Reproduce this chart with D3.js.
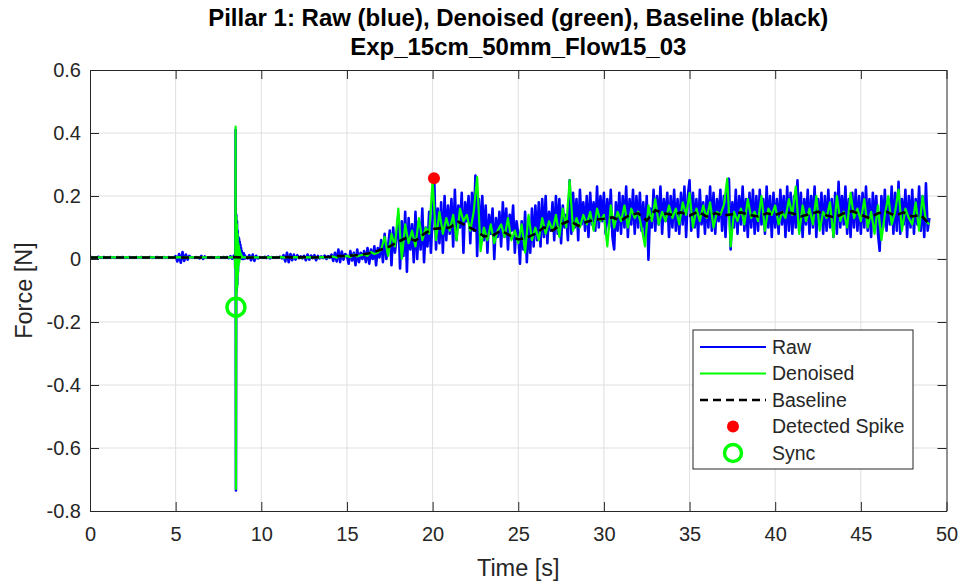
<!DOCTYPE html>
<html>
<head>
<meta charset="utf-8">
<script src="https://cdn.jsdelivr.net/npm/d3@7"></script>
<style>
  body { margin: 0; background: #fff; }
  text { font-family: "Liberation Sans", Arial, Helvetica, sans-serif; fill: #262626; }
</style>
</head>
<body>
<div class="chart"></div>
<script>
// ---- data (force in mN) ----
const titleLines = ["Pillar 1: Raw (blue), Denoised (green), Baseline (black)", "Exp_15cm_50mm_Flow15_03"];
const xLabel = "Time [s]";
const yLabel = "Force [N]";
const xTicks = [0, 5, 10, 15, 20, 25, 30, 35, 40, 45, 50];
const yTicks = [-0.8, -0.6, -0.4, -0.2, 0, 0.2, 0.4, 0.6];
const yTickLabels = ["-0.8", "-0.6", "-0.4", "-0.2", "0", "0.2", "0.4", "0.6"];
const legendNames = ["Raw", "Denoised", "Baseline", "Detected Spike", "Sync"];

// raw signal, one value every 0.1 s from t = 0
const rawStep = 0.1;
const rawForce_mN = [
  5,6,4,5,5,7,4,5,6,5,  4,5,6,5,5,4,6,5,5,6,  5,4,5,6,5,5,4,6,5,5,  6,5,4,5,5,6,5,4,5,6,
  5,5,4,6,5,5,6,4,5,5,  9,-8,16,-12,22,-6,14,-2,10,5,  5,4,6,5,2,10,0,8,4,5,  5,6,4,5,5,6,4,5,6,5,
  6,3,9,1,11,5,5,5,5,5,  5,5,2,12,-4,14,-6,10,2,6,  5,4,7,3,8,2,6,5,4,6,  5,7,2,12,-8,20,-10,16,-4,14,
  -2,12,3,8,2,10,-4,14,-2,11,  3,12,-4,10,2,8,3,11,0,9,  4,14,-6,20,-8,30,-10,24,-2,16,
  10,-15,25,-5,20,-20,30,-10,20,0,  25,-10,35,-15,30,0,40,-20,35,5,
  60,-10,80,0,40,90,-20,100,20,70,  140,-30,120,10,150,-40,130,30,110,-10,
  150,0,120,30,160,-10,100,40,150,20,  130,250,30,160,50,180,20,200,60,170,
  80,190,40,220,60,170,100,210,20,180,  120,200,50,210,90,265,10,190,80,200,
  60,170,20,140,80,160,0,130,70,150,  40,180,70,160,30,140,90,170,20,120,
  80,-15,120,30,150,-10,110,20,160,40,  170,60,180,40,190,70,200,50,150,90,
  180,60,200,80,190,50,170,100,140,60,  250,80,210,100,190,60,220,110,180,90,
  200,70,210,110,180,90,230,100,200,120,  210,80,190,100,220,70,30,180,90,210,
  80,200,100,230,70,190,110,220,80,200,  100,210,90,180,70,200,-2,160,100,220,
  90,200,110,230,80,190,120,210,70,200,  100,220,90,190,80,210,110,230,70,200,
  250,90,210,100,190,70,220,110,180,80,  200,100,230,90,210,80,190,120,220,90,
  200,70,210,255,30,180,100,220,80,200,  110,230,90,190,70,210,100,220,80,200,
  90,220,110,190,80,230,100,200,70,210,  100,190,80,220,110,200,70,230,90,210,
  80,200,100,250,90,210,70,190,110,220,  80,200,100,230,70,190,110,210,80,200,
  90,220,100,190,70,210,80,245,100,200,  110,230,80,190,70,210,100,220,90,200,
  80,210,100,230,90,190,70,210,110,200,  80,26,200,100,220,90,190,110,230,80,
  210,90,245,80,190,110,220,70,200,100,  220,80,190,110,230,90,200,70,240,90,
  130
];

// denoised signal, one value every 0.2 s from t = 0
const denoisedStep = 0.2;
const denoisedForce_mN = [
  5,5,5,5,5, 5,5,5,5,5, 5,5,5,5,5, 5,5,5,5,5, 5,5,5,5,5,
  5,6,4,6,5, 5,5,5,5,5, 5,5,5,5,5, 5,5,6,5,5, 5,5,6,5,5,
  5,5,5,5,5, 5,6,4,7,5, 6,5,4,6,5, 5,6,5,6,5, 6,8,4,10,8,
  10,6,14,8,12, 14,10,22,16,20, 30,70,10,80,40, 160,0,110,50,90, 40,130,60,100,80,
  250,60,150,80,130, 90,140,60,160,120, 140,90,150,260,25, 100,60,110,50,90, 110,70,130,60,90,
  50,110,20,140,60, 100,60,130,80,120, 90,140,70,160,100, 250,90,130,100,140, 110,150,90,160,120,
  140,40,170,100,150, 120,170,100,160,130, 150,100,40,170,120, 190,110,150,120,170, 130,160,110,180,140,
  210,100,160,120,170, 130,180,100,150,140, 170,255,40,150,120, 160,110,190,130,150, 120,200,90,160,140,
  170,110,150,130,190, 140,230,80,170,120, 160,110,200,90,150, 130,180,70,200,120, 150,100,210,130,160,
  120,190,100,150,80, 170,60,140,200,110, 150,220,90,160,130, 110,180,90,200,120,
  110
];

// fine detail around the sync impact (8.46 s to 9.14 s, every 0.02 s)
const impactStart = 8.46;
const impactStep = 0.02;
const impactRaw_mN = [8,-30,410,-735,140,-100,120,-80,90,-40,70,10,65,0,55,15,45,5,35,10,25,0,20,5,15,0,18,8,3,12,2,8,4,6,5];
const impactDenoised_mN = [8,-30,420,-730,135,-110,110,-90,80,-50,50,-20,40,-10,30,0,20,5,15,5,10,5,8,5,6,5,5,5,5,5,5,5,5,5,5];

// baseline, one value every 0.5 s from t = 0
const baselineStep = 0.5;
const baselineForce_mN = [
  5,5,5,5,5,5,5,5,5,5,5,5,5,5,5,5,
  5,6,4,5,5,5,5,6,5,6,5,6,7,9,
  10,12,15,20,30,40,55,68,58,80,95,98,100,118,105,90,72,75,90,75,
  62,68,80,100,90,110,122,105,118,125,128,132,122,140,145,122,155,145,140,148,
  138,150,135,145,138,142,148,140,135,145,140,150,145,135,142,150,138,132,145,152,
  140,130,145,150,138,148,135,140,110
];

const spikeTime = [20.08];
const spikeForce_mN = [256];
const syncTime = [8.52];
const syncForce_mN = [-153];

// ---- layout ----
const width = 963;
const height = 585;
const marginLeft = 90;
const marginRight = 16.5;
const marginTop = 70;
const marginBottom = 74;

const x = d3.scaleLinear().domain([0, 50]).range([marginLeft, width - marginRight]);
const y = d3.scaleLinear().domain([-0.8, 0.6]).range([height - marginBottom, marginTop]);

const inImpact = t => t > impactStart - 0.01 && t < impactStart + impactStep * (impactRaw_mN.length - 1) + 0.01;

function series(values, step, detail) {
  const pts = values.map((v, i) => [i * step, v / 1000]).filter(d => !inImpact(d[0]));
  detail.forEach((v, i) => pts.push([impactStart + i * impactStep, v / 1000]));
  return pts.sort((a, b) => a[0] - b[0]);
}
const rawData = series(rawForce_mN, rawStep, impactRaw_mN);
const denoisedData = series(denoisedForce_mN, denoisedStep, impactDenoised_mN);
const baselineData = baselineForce_mN.map((v, i) => [i * baselineStep, v / 1000]);

const svg = d3.select(".chart").append("svg")
  .attr("width", width)
  .attr("height", height);

svg.append("defs").append("clipPath").attr("id", "plotArea")
  .append("rect")
  .attr("x", marginLeft).attr("y", marginTop)
  .attr("width", x.range()[1] - marginLeft)
  .attr("height", y.range()[0] - marginTop);

// grid
const grid = svg.append("g").attr("stroke", "#dfdfdf").attr("stroke-width", 1);
grid.selectAll(".gx").data(xTicks.slice(1, -1)).join("line")
  .attr("x1", d => x(d)).attr("x2", d => x(d))
  .attr("y1", marginTop).attr("y2", y.range()[0]);
grid.selectAll(".gy").data(yTicks.slice(1, -1)).join("line")
  .attr("x1", marginLeft).attr("x2", x.range()[1])
  .attr("y1", d => y(d)).attr("y2", d => y(d));

// data lines
const line = d3.line().x(d => x(d[0])).y(d => y(d[1]));
const plot = svg.append("g").attr("clip-path", "url(#plotArea)");

plot.append("path").datum(rawData)
  .attr("fill", "none").attr("stroke", "#0000ff").attr("stroke-width", 2.6)
  .attr("stroke-linejoin", "round")
  .attr("d", line);

plot.append("path").datum(denoisedData)
  .attr("fill", "none").attr("stroke", "#00ff00").attr("stroke-width", 2.2)
  .attr("stroke-linejoin", "round")
  .attr("d", line);

plot.append("path").datum(baselineData)
  .attr("fill", "none").attr("stroke", "#000").attr("stroke-width", 2.6)
  .attr("stroke-dasharray", "8,5")
  .attr("d", line);

plot.selectAll(".spike").data(spikeTime).join("circle")
  .attr("cx", d => x(d)).attr("cy", (d, i) => y(spikeForce_mN[i] / 1000))
  .attr("r", 6).attr("fill", "#ff0000");

plot.selectAll(".sync").data(syncTime).join("circle")
  .attr("cx", d => x(d)).attr("cy", (d, i) => y(syncForce_mN[i] / 1000))
  .attr("r", 9).attr("fill", "none").attr("stroke", "#00ff00").attr("stroke-width", 3.4);

// axes (box with inward ticks on all sides)
const axisColor = "#262626";
function styleAxis(g) {
  g.selectAll("path, line").attr("stroke", axisColor);
  g.selectAll("text").attr("fill", axisColor).style("font-size", "20px");
}

svg.append("g")
  .attr("transform", `translate(0,${y.range()[0]})`)
  .call(d3.axisBottom(x).tickValues(xTicks).tickSizeInner(-9).tickSizeOuter(0).tickPadding(16))
  .call(styleAxis);

svg.append("g")
  .attr("transform", `translate(0,${marginTop})`)
  .call(d3.axisTop(x).tickValues(xTicks).tickSizeInner(-9).tickSizeOuter(0).tickFormat(""))
  .call(styleAxis);

svg.append("g")
  .attr("transform", `translate(${marginLeft},0)`)
  .call(d3.axisLeft(y).tickValues(yTicks).tickSizeInner(-9).tickSizeOuter(0).tickPadding(9)
    .tickFormat((d, i) => yTickLabels[i]))
  .call(styleAxis);

svg.append("g")
  .attr("transform", `translate(${x.range()[1]},0)`)
  .call(d3.axisRight(y).tickValues(yTicks).tickSizeInner(-9).tickSizeOuter(0).tickFormat(""))
  .call(styleAxis);

svg.selectAll(".domain").attr("stroke-width", 1);

// titles & labels
const cx = (marginLeft + x.range()[1]) / 2;
svg.selectAll(".title").data(titleLines).join("text")
  .attr("x", cx).attr("y", (d, i) => 26 + i * 29)
  .attr("text-anchor", "middle")
  .style("font-size", "24px").style("font-weight", "bold").style("fill", "#000")
  .text(d => d);

svg.append("text")
  .attr("x", cx).attr("y", 576)
  .attr("text-anchor", "middle")
  .style("font-size", "23.5px")
  .text(xLabel);

svg.append("text")
  .attr("transform", `translate(32,${(marginTop + y.range()[0]) / 2}) rotate(-90)`)
  .attr("text-anchor", "middle")
  .style("font-size", "23.5px")
  .text(yLabel);

// legend
const legend = svg.append("g").attr("transform", "translate(693,330)");
legend.append("rect")
  .attr("width", 220).attr("height", 139)
  .attr("fill", "#fff").attr("stroke", axisColor).attr("stroke-width", 1);

const rowY = i => 17 + i * 26.5;
const rows = legend.selectAll(".row").data(legendNames).join("g")
  .attr("transform", (d, i) => `translate(0,${rowY(i)})`);

rows.append("text")
  .attr("x", 79).attr("dy", "0.35em")
  .style("font-size", "19.5px")
  .text(d => d);

rows.filter((d, i) => i === 0).append("line")
  .attr("x1", 7).attr("x2", 73).attr("stroke", "#0000ff").attr("stroke-width", 2.2);
rows.filter((d, i) => i === 1).append("line")
  .attr("x1", 7).attr("x2", 73).attr("stroke", "#00ff00").attr("stroke-width", 2.2);
rows.filter((d, i) => i === 2).append("line")
  .attr("x1", 7).attr("x2", 73).attr("stroke", "#000").attr("stroke-width", 2.6)
  .attr("stroke-dasharray", "8,5");
rows.filter((d, i) => i === 3).append("circle")
  .attr("cx", 40).attr("r", 6).attr("fill", "#ff0000");
rows.filter((d, i) => i === 4).append("circle")
  .attr("cx", 40).attr("r", 8.5).attr("fill", "none")
  .attr("stroke", "#00ff00").attr("stroke-width", 3.4);
</script>
</body>
</html>
